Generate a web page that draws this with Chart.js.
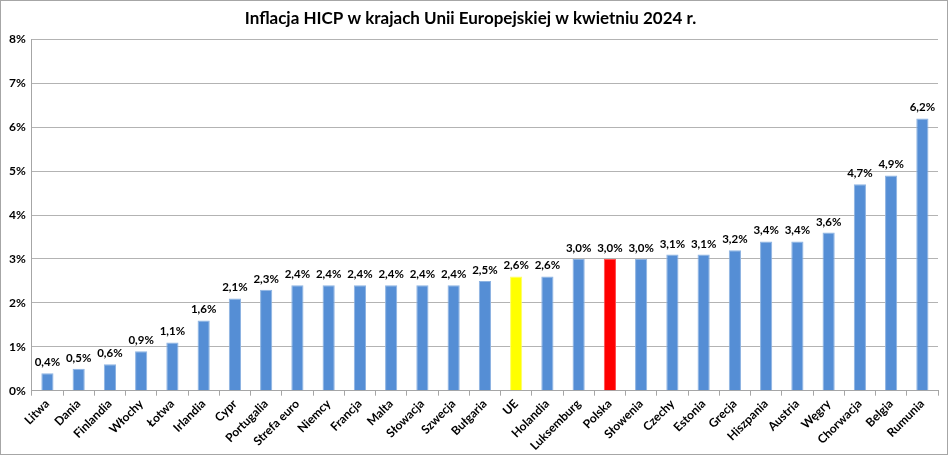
<!DOCTYPE html>
<html>
<head>
<meta charset="utf-8">
<script src="https://cdn.jsdelivr.net/npm/chart.js@4"></script>
<style>
  html, body { margin: 0; padding: 0; background: #fff; }
  #wrap { width: 946px; height: 453px; border: 1px solid #a6a6a6; position: relative; }
</style>
</head>
<body>
<div id="wrap"><canvas id="hicpChart"></canvas></div>
<script>
const countries = [
  "Litwa", "Dania", "Finlandia", "Włochy", "Łotwa", "Irlandia", "Cypr", "Portugalia",
  "Strefa euro", "Niemcy", "Francja", "Malta", "Słowacja", "Szwecja", "Bułgaria", "UE",
  "Holandia", "Luksemburg", "Polska", "Słowenia", "Czechy", "Estonia", "Grecja",
  "Hiszpania", "Austria", "Węgry", "Chorwacja", "Belgia", "Rumunia"
];
const inflation = [
  0.4, 0.5, 0.6, 0.9, 1.1, 1.6, 2.1, 2.3,
  2.4, 2.4, 2.4, 2.4, 2.4, 2.4, 2.5, 2.6,
  2.6, 3.0, 3.0, 3.0, 3.1, 3.1, 3.2,
  3.4, 3.4, 3.6, 4.7, 4.9, 6.2
];
const yTicks = [0, 1, 2, 3, 4, 5, 6, 7, 8];

const barColors = countries.map(c => c === 'UE' ? '#ffff00' : c === 'Polska' ? '#ff0000' : '#558ed5');
const barBorders = countries.map(c => c === 'UE' ? '#ffff66' : c === 'Polska' ? '#ff4d4d' : '#8db3e2');

// values above the bars, Excel style "2,4%"
const valueLabels = {
  id: 'valueLabels',
  afterDatasetsDraw(chart) {
    const ctx = chart.ctx;
    const meta = chart.getDatasetMeta(0);
    ctx.save();
    ctx.font = 'bold 11.5px Lato';
    ctx.fillStyle = '#000';
    ctx.textAlign = 'center';
    ctx.textBaseline = 'bottom';
    meta.data.forEach((bar, i) => {
      ctx.fillText(inflation[i].toFixed(1).replace('.', ',') + '%', bar.x, bar.y - 5);
    });
    ctx.restore();
  }
};

window.onload = function () {
  const ctx = document.getElementById('hicpChart').getContext('2d');
  new Chart(ctx, {
    type: 'bar',
    data: {
      labels: countries,
      datasets: [{
        data: inflation,
        backgroundColor: barColors,
        borderColor: barBorders,
        borderWidth: 1,
        barPercentage: 0.39,
        categoryPercentage: 1.0
      }]
    },
    options: {
      responsive: true,
      maintainAspectRatio: false,
      animation: false,
      layout: { padding: { left: 2, right: 9, top: 0, bottom: 0 } },
      plugins: {
        legend: { display: false },
        tooltip: { enabled: false },
        title: {
          display: true,
          text: 'Inflacja HICP w krajach Unii Europejskiej w kwietniu 2024 r.',
          color: '#000',
          font: { family: 'Lato', size: 17, weight: 'bold' },
          padding: { top: 7, bottom: 11 }
        }
      },
      scales: {
        x: {
          grid: {
            offset: true,
            drawOnChartArea: false,
            drawTicks: true,
            tickLength: 5,
            color: '#a6a6a6'
          },
          border: { color: '#a6a6a6' },
          ticks: {
            color: '#000',
            font: { family: 'Lato', size: 12, weight: 'bold' },
            maxRotation: 45,
            minRotation: 45,
            autoSkip: false,
            padding: 1
          }
        },
        y: {
          min: 0,
          max: 8,
          afterBuildTicks(scale) {
            scale.ticks = yTicks.map(v => ({ value: v }));
          },
          grid: { color: '#b3b3b3', drawTicks: false },
          border: { color: '#a6a6a6' },
          ticks: {
            color: '#000',
            font: { family: 'Lato', size: 12, weight: 'bold' },
            padding: 6,
            callback: v => v + '%'
          }
        }
      }
    },
    plugins: [valueLabels]
  });
};
</script>
</body>
</html>
